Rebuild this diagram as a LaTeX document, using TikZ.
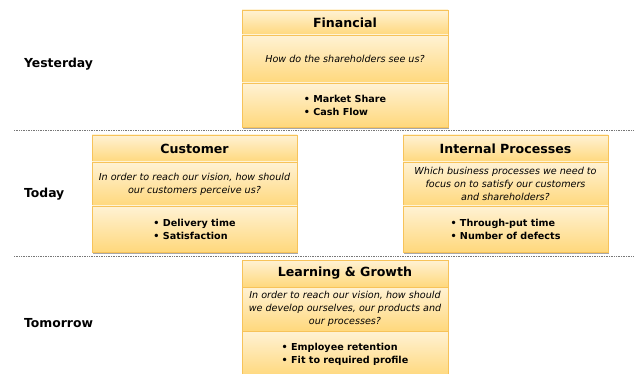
\documentclass[tikz,border=0pt]{standalone}
\usepackage{fontspec}
\setmainfont{DejaVu Sans}
\begin{document}
\begin{tikzpicture}[x=1pt,y=-1pt,
  band/.style={draw=bandedge, line width=0.7pt, top color=bandtop, bottom color=bandbot,
    inner sep=0pt, outer sep=0pt, anchor=north west},
  titlefont/.style={font=\fontsize{12.6}{14}\selectfont\bfseries},
  askfont/.style={font=\fontsize{9.6}{13}\selectfont\itshape, align=center},
  kpifont/.style={font=\fontsize{9.6}{13}\selectfont\bfseries, align=left},
  era/.style={font=\fontsize{12.4}{14}\selectfont\bfseries, anchor=west},
  divider/.style={draw=divgray, line width=1pt, dash pattern=on 1pt off 0.7pt},
  shade/.style={fill=shadowgray}]
\definecolor{bandtop}{HTML}{FFF2D4}
\definecolor{bandbot}{HTML}{FFD87C}
\definecolor{bandedge}{HTML}{F7C35A}
\definecolor{divgray}{HTML}{777777}
\definecolor{shadowgray}{HTML}{A8A8A8}
\useasboundingbox[fill=white] (0,0) rectangle (637,374);

% row labels
\node[era] (yesterday) at (20.5,64) {Yesterday};
\node[era] (today) at (20.5,194) {Today};
\node[era] (tomorrow) at (20.5,323) {Tomorrow};

% dotted dividers between the rows
\coordinate (d1l) at (14,131); \coordinate (d1r) at (634,131);
\coordinate (d2l) at (14,256); \coordinate (d2r) at (634,256);
\draw[divider] (d1l) -- (d1r);
\draw[divider] (d2l) -- (d2r);

% drop shadows under the cards
\fill[shade] (243,127) rectangle (449,129.3);
\fill[shade] (93,252) rectangle (298,254.3);
\fill[shade] (404,252) rectangle (609,254.3);

% Financial
\node[band, minimum width=206pt, minimum height=25pt, titlefont] (fin-t) at (242,10) {Financial};
\node[band, minimum width=206pt, minimum height=48pt, askfont] (fin-q) at (fin-t.south west) {How do the shareholders see us?};
\node[band, minimum width=206pt, minimum height=44pt, kpifont] (fin-k) at (fin-q.south west) {\textbullet\ Market Share\\\textbullet\ Cash Flow};

% Customer
\node[band, minimum width=205pt, minimum height=27pt, titlefont] (cus-t) at (92,135) {Customer};
\node[band, minimum width=205pt, minimum height=44pt, askfont] (cus-q) at (cus-t.south west) {In order to reach our vision, how should\\our customers perceive us?};
\node[band, minimum width=205pt, minimum height=46pt, kpifont] (cus-k) at (cus-q.south west) {\textbullet\ Delivery time\\\textbullet\ Satisfaction};

% Internal Processes
\node[band, minimum width=205pt, minimum height=27pt, titlefont] (int-t) at (403,135) {Internal Processes};
\node[band, minimum width=205pt, minimum height=44pt, askfont] (int-q) at (int-t.south west) {Which business processes we need to\\focus on to satisfy our customers\\and shareholders?};
\node[band, minimum width=205pt, minimum height=46pt, kpifont] (int-k) at (int-q.south west) {\textbullet\ Through-put time\\\textbullet\ Number of defects};

% Learning & Growth
\node[band, minimum width=206pt, minimum height=27pt, titlefont] (lrn-t) at (242,260) {Learning \& Growth};
\node[band, minimum width=206pt, minimum height=44pt, askfont] (lrn-q) at (lrn-t.south west) {In order to reach our vision, how should\\we develop ourselves, our products and\\our processes?};
\node[band, minimum width=206pt, minimum height=46pt, kpifont] (lrn-k) at (lrn-q.south west) {\textbullet\ Employee retention\\\textbullet\ Fit to required profile};
\end{tikzpicture}
\end{document}
